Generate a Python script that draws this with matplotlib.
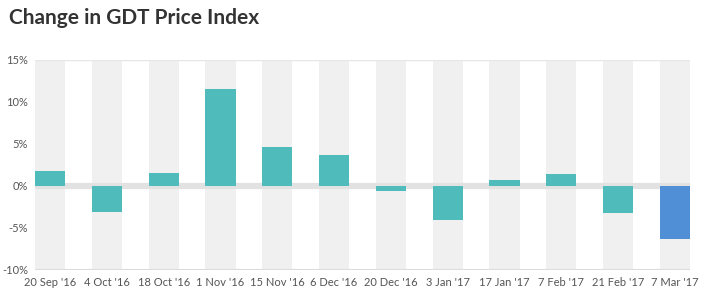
import matplotlib
matplotlib.use("Agg")
import matplotlib.pyplot as plt

categories = ["20 Sep '16", "4 Oct '16", "18 Oct '16", "1 Nov '16", "15 Nov '16", "6 Dec '16",
              "20 Dec '16", "3 Jan '17", "17 Jan '17", "7 Feb '17", "21 Feb '17", "7 Mar '17"]
values = [1.8, -3.1, 1.5, 11.5, 4.6, 3.65, -0.55, -4.0, 0.7, 1.4, -3.25, -6.3]
yticks = [-10, -5, 0, 5, 10, 15]
ytick_labels = ["-10%", "-5%", "0%", "5%", "10%", "15%"]

plt.rcParams['font.family'] = ['Lato', 'DejaVu Sans']

W, H = 706, 296
fig = plt.figure(figsize=(W / 100, H / 100), dpi=100)
ax = fig.add_axes([35 / W, (H - 270) / H, (690 - 35) / W, (270 - 60) / H])

x = list(range(len(categories)))
bw = 0.53
ax.bar(x, [25] * len(x), bottom=-10, width=bw, color="#f0f0f0", zorder=1)
ax.axhline(0, color="#e2e2e2", lw=4.5, zorder=2)
ax.axhline(15, color="#e6e6e6", lw=1, zorder=2)
ax.axhline(-10, color="#dcdcdc", lw=1.5, zorder=2)
colors = ["#50bbbb"] * (len(x) - 1) + ["#508fd6"]
ax.bar(x, values, width=bw, color=colors, zorder=3)

ax.set_xlim(-0.265, len(x) - 1 + 0.265)
ax.set_ylim(-10, 15)
ax.set_yticks(yticks)
ax.set_yticklabels(ytick_labels)
ax.set_xticks(x)
ax.set_xticklabels(categories)
ax.tick_params(length=0, labelsize=8, colors="#555555")
ax.tick_params(axis="y", pad=5)
ax.tick_params(axis="x", pad=5)
for s in ax.spines.values():
    s.set_visible(False)

fig.text(9 / W, 1 - 18 / H, "Change in GDT Price Index", fontsize=15, fontweight="bold",
         color="#333333", va="center", ha="left")

fig.savefig("out.png", dpi=100)
